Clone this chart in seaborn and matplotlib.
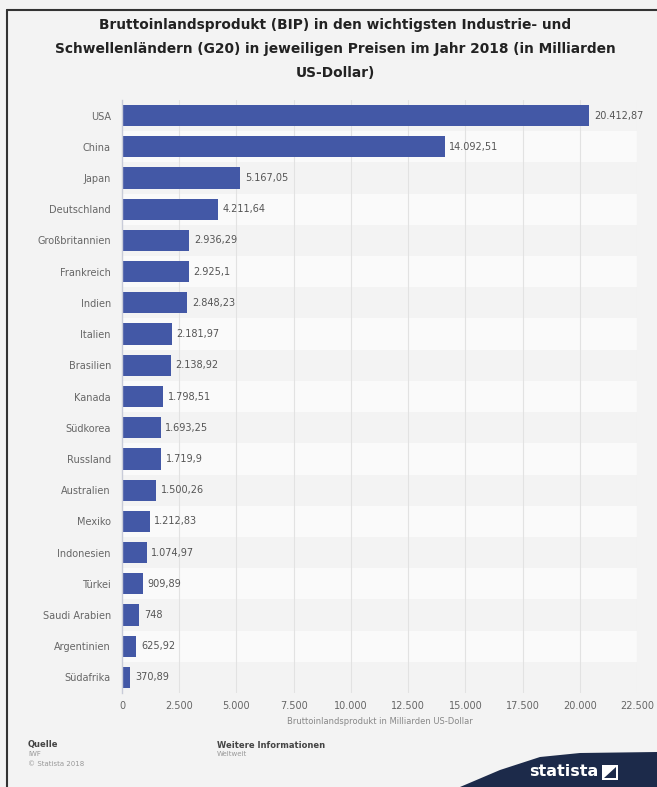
import matplotlib
matplotlib.use("Agg")
import matplotlib.pyplot as plt
import seaborn as sns
import pandas as pd
from matplotlib.patches import Polygon, Rectangle
from matplotlib.lines import Line2D

countries = ["USA", "China", "Japan", "Deutschland", "Großbritannien", "Frankreich",
             "Indien", "Italien", "Brasilien", "Kanada", "Südkorea", "Russland",
             "Australien", "Mexiko", "Indonesien", "Türkei", "Saudi Arabien",
             "Argentinien", "Südafrika"]
values = [20412.87, 14092.51, 5167.05, 4211.64, 2936.29, 2925.1, 2848.23, 2181.97,
          2138.92, 1798.51, 1693.25, 1719.9, 1500.26, 1212.83, 1074.97, 909.89,
          748, 625.92, 370.89]
xticks = [0, 2500, 5000, 7500, 10000, 12500, 15000, 17500, 20000, 22500]

title = ("Bruttoinlandsprodukt (BIP) in den wichtigsten Industrie- und\n"
         "Schwellenländern (G20) in jeweiligen Preisen im Jahr 2018 (in Milliarden\n"
         "US-Dollar)")
xlabel = "Bruttoinlandsprodukt in Milliarden US-Dollar"


def de_num(v):
    s = f"{v:,.2f}".rstrip("0").rstrip(".")
    return s.replace(",", "X").replace(".", ",").replace("X", ".")


df = pd.DataFrame({"Land": countries, "Wert": values})

sns.set_theme(style="white")
plt.rcParams["font.family"] = ["DejaVu Sans"]

bg = "#f3f3f3"
fig = plt.figure(figsize=(6.57, 7.87), dpi=100, facecolor=bg)
ax = fig.add_axes([122 / 657, 1 - 693 / 787, (637 - 122) / 657, 593 / 787])
ax.set_facecolor(bg)

# alternating row stripes
for i in range(len(countries)):
    if i % 2 == 1:
        ax.axhspan(i - 0.5, i + 0.5, color="#fafafa", zorder=0, lw=0)

for xt in xticks[1:]:
    ax.axvline(xt, color="#e2e2e2", lw=0.8, zorder=0.5)

sns.barplot(data=df, x="Wert", y="Land", orient="h", color="#4358a6",
            saturation=1, width=0.68, ax=ax, zorder=2, linewidth=0)

for i, v in enumerate(values):
    ax.text(v + 200, i, de_num(v), va="center", ha="left", fontsize=7,
            color="#555555", zorder=3)

ax.set_xlim(0, 22500)
ax.set_ylim(len(countries) - 0.5, -0.5)
ax.set_xticks(xticks)
ax.set_xticklabels([de_num(t) for t in xticks])
ax.tick_params(axis="x", labelsize=7, colors="#666666", length=0, pad=6)
ax.tick_params(axis="y", labelsize=7, colors="#666666", length=0, pad=8)
ax.set_ylabel("")
ax.set_xlabel(xlabel, fontsize=6, color="#888888", labelpad=4)
for s in ["top", "right", "bottom"]:
    ax.spines[s].set_visible(False)
ax.spines["left"].set_color("#c8cbd8")
ax.spines["left"].set_linewidth(1)

fig.text(335 / 657, 1 - 18 / 787, title, ha="center", va="top", fontsize=9.9,
         fontweight="bold", color="#222222", linespacing=1.9)

# frame lines
fig.add_artist(Line2D([7 / 657, 7 / 657], [0, 1 - 10 / 787], color="#333333",
                      lw=1.5, transform=fig.transFigure))
fig.add_artist(Line2D([7 / 657, 1], [1 - 10 / 787, 1 - 10 / 787], color="#333333",
                      lw=1.5, transform=fig.transFigure))

# footer
fig.text(28 / 657, 1 - 745 / 787, "Quelle", fontsize=6, fontweight="bold",
         color="#444444", va="center")
fig.text(28 / 657, 1 - 754 / 787, "IWF", fontsize=5, color="#999999", va="center")
fig.text(28 / 657, 1 - 764 / 787, "© Statista 2018", fontsize=5, color="#999999",
         va="center")
fig.text(217 / 657, 1 - 745 / 787, "Weitere Informationen", fontsize=6,
         fontweight="bold", color="#444444", va="center")
fig.text(217 / 657, 1 - 754 / 787, "Weltweit", fontsize=5, color="#999999",
         va="center")

# statista logo shape
pts = [(460, 787), (500, 770), (540, 757), (580, 753), (657, 752), (657, 787)]
poly = Polygon([(x / 657, 1 - y / 787) for x, y in pts], closed=True,
               facecolor="#1c2a4a", edgecolor="none", transform=fig.transFigure)
fig.add_artist(poly)
fig.text(598 / 657, 1 - 772 / 787, "statista", fontsize=11.5, fontweight="bold",
         color="white", ha="right", va="center")
fig.add_artist(Rectangle((602 / 657, 1 - 780 / 787), 16 / 657, 15 / 787,
                         facecolor="white", edgecolor="none",
                         transform=fig.transFigure))
fig.add_artist(Polygon([(604 / 657, 1 - 778 / 787), (616 / 657, 1 - 767 / 787),
                        (616 / 657, 1 - 778 / 787)], closed=True,
                       facecolor="#1c2a4a", edgecolor="none",
                       transform=fig.transFigure))

fig.savefig("out.png", dpi=100, facecolor=bg)
